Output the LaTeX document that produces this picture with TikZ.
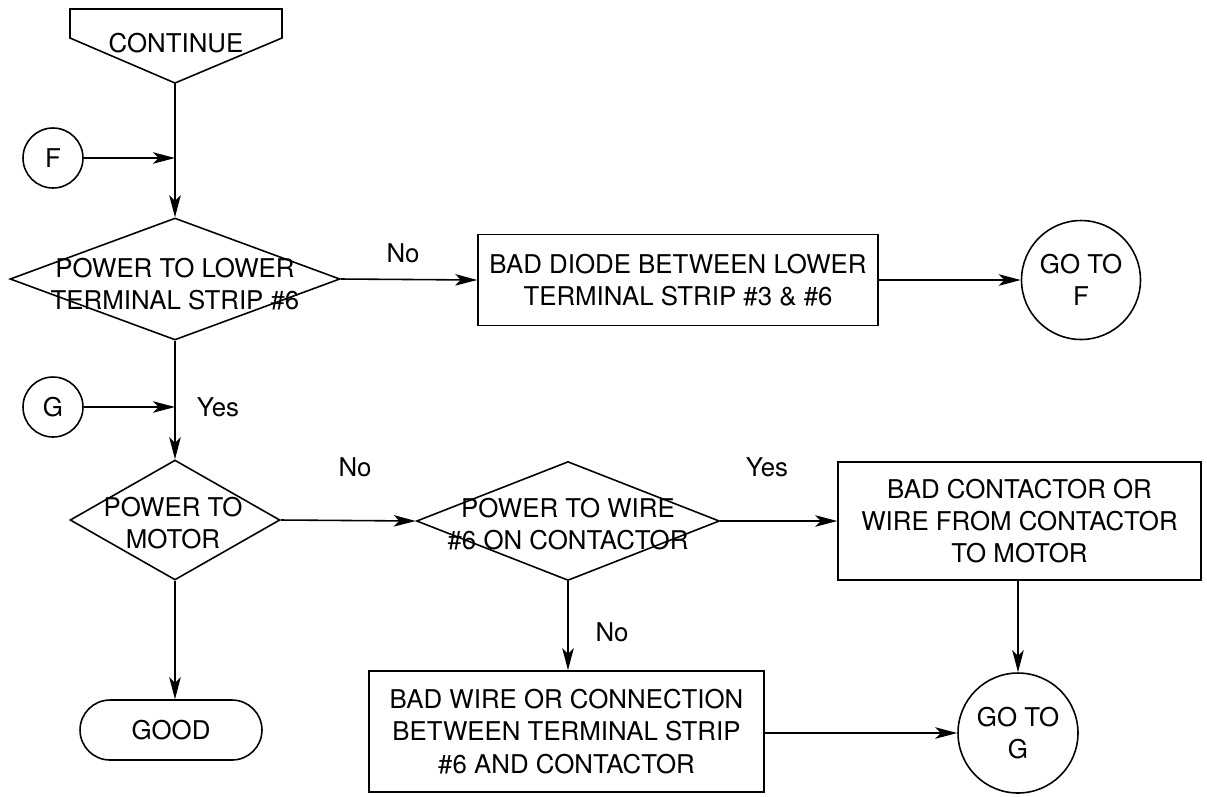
\documentclass[tikz,border=0pt]{standalone}
\usepackage{fontspec}
\setmainfont{TeX Gyre Heros}
\usetikzlibrary{shapes.geometric,arrows.meta}
\begin{document}
\begin{tikzpicture}[x=0.02cm,y=-0.02cm, line width=0.9pt,
  >={Stealth[length=4.4mm,width=2.3mm,inset=1.1mm]},
  txt/.style={font=\fontsize{14.7}{18.3}\selectfont, align=center, inner sep=0pt},
  dia/.style={draw, diamond, inner sep=0pt},
  box/.style={draw, rectangle, txt},
  circ/.style={draw, circle, inner sep=0pt, txt},
  term/.style={draw, rectangle, rounded corners=0.6cm, txt, minimum width=3.64cm, minimum height=1.2cm}]
\useasboundingbox (0,0) rectangle (1207,796);

% CONTINUE
\draw (70,9) -- (282,9) -- (282,38) -- (175,83) -- (70,38) -- cycle;
\node[txt] (cont) at (176,43) {CONTINUE};
\coordinate (contb) at (175,83);

% connectors' junctions
\coordinate (jF) at (175,158);
\coordinate (jG) at (175,407);

% nodes
\node[circ, minimum size=1.2cm] (F) at (53,158) {F};
\node[dia, minimum width=6.6cm, minimum height=2.44cm] (d1) at (175,279) {};
\node[txt] (d1t) at (175,284) {POWER TO LOWER\\TERMINAL STRIP \#6};
\node[box, minimum width=8cm, minimum height=1.82cm] (b1) at (678,280) {BAD DIODE BETWEEN LOWER\\TERMINAL STRIP \#3 \& \#6};
\node[circ, minimum size=2.38cm] (gF) at (1081,280) {GO TO\\F};

\node[circ, minimum size=1.2cm] (G) at (53,407) {G};
\node[dia, minimum width=4.2cm, minimum height=2.4cm] (d2) at (175,520) {};
\node[txt] (d2t) at (173,523) {POWER TO\\MOTOR};
\node[dia, minimum width=6.06cm, minimum height=2.38cm] (d3) at (568,521) {};
\node[txt] (d3t) at (568,524) {POWER TO WIRE\\\#6 ON CONTACTOR};
\node[box, minimum width=7.26cm, minimum height=2.36cm] (b2) at (1019.5,521) {BAD CONTACTOR OR\\WIRE FROM CONTACTOR\\TO MOTOR};
\node[box, minimum width=7.9cm, minimum height=2.42cm] (b3) at (566.5,731.5) {BAD WIRE OR CONNECTION\\BETWEEN TERMINAL STRIP\\\#6 AND CONTACTOR};
\node[circ, minimum size=2.4cm] (gG) at (1018,733) {GO TO\\G};
\node[term] (good) at (171,730) {GOOD};

% labels
\node[txt] (l1) at (403,253) {No};
\node[txt] (l2) at (218,407) {Yes};
\node[txt] (l3) at (355,467) {No};
\node[txt] (l4) at (767,467) {Yes};
\node[txt] (l5) at (612,632) {No};

% connectors
\draw (contb) -- (jF);
\draw[->] (F) -- (jF);
\draw[->] (jF) -- (d1.north);
\draw[->] (d1.east) -- (b1.west);
\draw[->] (b1.east) -- (gF.west);
\draw (d1.south) -- (jG);
\draw[->] (G) -- (jG);
\draw[->] (jG) -- (d2.north);
\draw[->] (d2.east) -- (d3.west);
\draw[->] (d3.east) -- (b2.west);
\draw[->] (b2.south -| gG.north) -- (gG.north);
\draw[->] (d3.south) -- (d3.south |- b3.north);
\draw[->] (b3.east |- gG.west) -- (gG.west);
\draw[->] (d2.south) -- (d2.south |- good.north);
\end{tikzpicture}
\end{document}
